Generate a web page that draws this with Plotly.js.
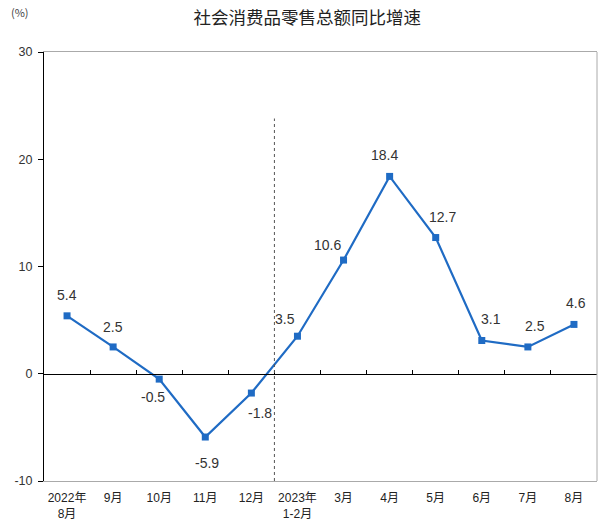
<!DOCTYPE html>
<html>
<head>
<meta charset="utf-8">
<script src="https://cdn.plot.ly/plotly-3.0.1.min.js"></script>
<style>html,body{margin:0;padding:0;background:#fff;}#chart{width:605px;height:528px;}</style>
</head>
<body>
<div id="chart"></div>
<script>
// Data
const categories = ["2022年<br>8月","9月","10月","11月","12月","2023年<br>1-2月","3月","4月","5月","6月","7月","8月"];
const growth = [5.4, 2.5, -0.5, -5.9, -1.8, 3.5, 10.6, 18.4, 12.7, 3.1, 2.5, 4.6];
const yTicks = [-10, 0, 10, 20, 30];
const yTickText = ["-10", "0", "10", "20", "30"];

// Label offsets (style only, pixels)
const labelShiftX = [0, 0, -6, 2, 9, -12, -16, -5, 7, 9, 7, 2];
const labelShiftY = [21, 20, -18, -26, -20, 17, 15, 21, 21, 22, 21, 21];

const blue = "#1f6bc4";
const fontFam = "Liberation Sans, Arial, Noto Sans CJK SC, sans-serif";

const traces = [
  {
    x: categories, y: growth, type: "scatter", mode: "lines+markers",
    line: {color: blue, width: 2.2, shape: "linear"},
    marker: {symbol: "square", size: 7, color: blue},
    hoverinfo: "skip", xaxis: "x", yaxis: "y"
  },
  {
    x: categories, y: growth, type: "scatter", mode: "none",
    hoverinfo: "skip", xaxis: "x2", yaxis: "y", showlegend: false
  }
];

const annotations = growth.map((v, i) => ({
  x: categories[i], y: v, xref: "x", yref: "y",
  text: v.toFixed(1), showarrow: false,
  xshift: labelShiftX[i], yshift: labelShiftY[i],
  font: {family: fontFam, size: 14, color: "#333"}
}));
annotations.push({
  xref: "paper", yref: "paper", x: -0.063, y: 1.093, xanchor: "left", yanchor: "middle",
  text: "(%)", showarrow: false,
  font: {family: "Noto Sans CJK SC, sans-serif", size: 11, color: "#444"}
});

const layout = {
  width: 605, height: 528,
  margin: {l: 44, r: 8, t: 52, b: 47},
  paper_bgcolor: "#fff", plot_bgcolor: "#fff",
  showlegend: false,
  title: {
    text: "社会消费品零售总额同比增速",
    x: 0.508, xanchor: "center", y: 0.966, yanchor: "middle",
    font: {family: "Noto Sans CJK SC, sans-serif", size: 17.5, color: "#222"}
  },
  xaxis: {
    type: "category", categoryorder: "array", categoryarray: categories,
    range: [-0.5, 11.5], showgrid: false, zeroline: false,
    showline: true, linecolor: "#aaaaaa", linewidth: 1, mirror: true,
    ticks: "", ticklabelstandoff: 6,
    tickfont: {family: fontFam, size: 12, color: "#222"},
    fixedrange: true
  },
  xaxis2: {
    type: "category", categoryorder: "array", categoryarray: categories,
    range: [-0.5, 11.5], overlaying: "x", anchor: "free", position: 0.25,
    side: "bottom", showgrid: false, zeroline: false,
    showline: true, linecolor: "#000", linewidth: 1,
    ticks: "inside", tickson: "boundaries", ticklen: 4, tickcolor: "#000", tickwidth: 1,
    showticklabels: false
  },
  yaxis: {
    range: [-10, 30], tickmode: "array", tickvals: yTicks, ticktext: yTickText,
    showgrid: false, zeroline: false,
    showline: true, linecolor: "#000", linewidth: 1,
    ticks: "outside", ticklen: 5, tickcolor: "#000", ticklabelstandoff: 3,
    tickfont: {family: fontFam, size: 12.5, color: "#333"},
    fixedrange: true
  },
  shapes: [
    {type: "line", xref: "paper", yref: "paper", x0: 1, x1: 1, y0: 0, y1: 1,
     line: {color: "#aaaaaa", width: 1}},
    {type: "line", xref: "x", yref: "y", x0: 4.5, x1: 4.5, y0: -10, y1: 23.8,
     line: {color: "#555", width: 1, dash: "3px,3px"}}
  ],
  annotations: annotations
};

Plotly.newPlot("chart", traces, layout, {staticPlot: true});
</script>
</body>
</html>
